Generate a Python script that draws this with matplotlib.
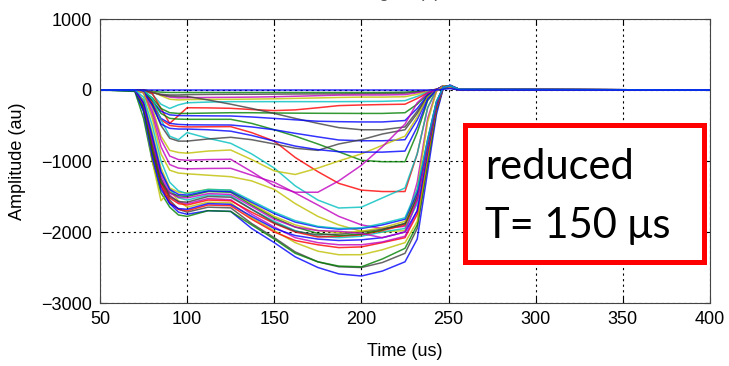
import matplotlib.pyplot as plt
from matplotlib.patches import Rectangle

# sample times (us) shared by every trace
time_us = [50, 70, 75, 80, 85, 90, 95, 100, 112, 125, 137, 150, 162, 175, 187,
           200, 212, 225, 232, 238, 243, 247, 251, 256, 400]

# shallow traces (amplitude, au)
tr01 = [0, 0, 0, 0, 0, 0, 0, 0, 0, 0, 0, 0, 0, 0, 0, 0, 0, 0, 0, 0, 0, 10, 20, 0, 0]
tr02 = [0, 0, 0, -20, -30, -35, -35, -35, -35, -35, -35, -35, -35, -35, -35, -35, -35, -30, -20, -10, 0, 20, 30, 0, 0]
tr03 = [0, 0, -10, -40, -60, -70, -70, -65, -62, -60, -60, -58, -56, -55, -55, -52, -50, -45, -30, -10, 10, 40, 30, 0, 0]
tr04 = [0, 0, 0, -30, -70, -100, -110, -108, -105, -103, -100, -95, -88, -80, -72, -70, -70, -65, -40, -15, 10, 40, 30, 0, 0]
tr05 = [0, 0, 0, -20, -80, -130, -140, -135, -132, -131, -128, -124, -118, -112, -105, -100, -100, -95, -60, -20, 10, 40, 30, 0, 0]
tr06 = [0, 0, -10, -60, -200, -260, -210, -180, -170, -164, -164, -164, -164, -164, -164, -162, -160, -150, -90, -30, 10, 50, 30, 0, 0]
tr07 = [0, 0, 0, -50, -260, -470, -360, -250, -252, -258, -275, -290, -280, -250, -220, -211, -205, -200, -120, -40, 10, 50, 30, 0, 0]
tr08 = [0, 0, -20, -110, -260, -320, -330, -330, -325, -320, -320, -324, -326, -328, -329, -330, -330, -320, -200, -60, 0, 50, 40, 0, 0]
tr09 = [0, 0, 0, -30, -70, -85, -90, -90, -140, -200, -260, -330, -400, -470, -530, -560, -560, -520, -300, -80, 0, 50, 40, 0, 0]
tr10 = [0, 0, -30, -150, -300, -350, -360, -362, -364, -366, -380, -400, -420, -440, -446, -450, -450, -430, -260, -70, 0, 50, 40, 0, 0]
tr11 = [0, 0, -20, -150, -330, -400, -410, -413, -413, -413, -470, -560, -650, -760, -870, -990, -1010, -1010, -600, -150, 0, 60, 40, 0, 0]
tr12 = [0, 0, -40, -200, -400, -470, -485, -490, -492, -493, -520, -560, -610, -660, -704, -715, -715, -700, -420, -110, 0, 60, 40, 0, 0]
tr13 = [0, 0, -30, -180, -420, -500, -515, -520, -518, -516, -600, -720, -950, -1150, -1315, -1410, -1430, -1430, -900, -250, 0, 60, 40, 0, 0]
tr14 = [0, 0, -10, -120, -420, -650, -700, -600, -680, -751, -900, -1100, -1350, -1550, -1662, -1650, -1520, -1380, -900, -250, 0, 60, 40, 0, 0]
tr15 = [0, 0, -30, -200, -500, -680, -720, -720, -690, -666, -700, -760, -820, -850, -760, -700, -620, -560, -330, -90, 0, 50, 40, 0, 0]
tr16 = [0, 0, -20, -250, -650, -850, -880, -890, -860, -845, -980, -1140, -1190, -1100, -1000, -900, -780, -650, -380, -100, 0, 50, 40, 0, 0]
tr17 = [0, 0, -30, -300, -700, -930, -980, -990, -980, -976, -1150, -1350, -1440, -1440, -1280, -1060, -800, -480, -180, -40, 0, 50, 40, 0, 0]
tr18 = [0, 0, -20, -220, -480, -540, -550, -550, -560, -580, -640, -720, -790, -840, -869, -875, -875, -860, -520, -130, 0, 60, 40, 0, 0]
tr19 = [0, 0, -40, -350, -800, -1050, -1100, -1110, -1105, -1103, -1200, -1300, -1450, -1620, -1780, -1900, -1950, -1920, -1300, -400, -20, 60, 40, 0, 0]
tr20 = [0, 0, -40, -400, -900, -1130, -1170, -1180, -1200, -1221, -1280, -1400, -1600, -1780, -1900, -1990, -2000, -1980, -1400, -450, -20, 60, 40, 0, 0]

# deep traces
tr21 = [0, -10, -300, -900, -1350, -1600, -1720, -1750, -1700, -1710, -1950, -2150, -2350, -2500, -2590, -2620, -2550, -2420, -2100, -1150, -350, 30, 70, 10, 0]
tr22 = [0, 0, -250, -850, -1300, -1550, -1680, -1720, -1650, -1660, -1880, -2080, -2280, -2420, -2490, -2500, -2430, -2300, -1950, -1050, -300, 30, 60, 10, 0]
tr23 = [0, -20, -400, -1000, -1450, -1650, -1760, -1780, -1700, -1710, -1900, -2100, -2300, -2420, -2480, -2490, -2380, -2230, -1900, -1000, -280, 40, 60, 10, 0]
tr24 = [0, 0, -250, -1000, -1560, -1420, -1560, -1650, -1580, -1590, -1800, -1980, -2150, -2270, -2320, -2320, -2250, -2150, -1850, -950, -250, 40, 60, 10, 0]
tr25 = [0, 0, -250, -850, -1350, -1580, -1680, -1700, -1620, -1630, -1820, -2000, -2120, -2180, -2220, -2210, -2150, -2080, -1750, -900, -250, 40, 60, 10, 0]
tr26 = [0, 0, -150, -700, -1250, -1480, -1580, -1600, -1530, -1545, -1750, -1930, -2080, -2150, -2180, -2180, -2140, -2060, -1700, -850, -230, 40, 60, 10, 0]
tr27 = [0, -10, -300, -950, -1400, -1600, -1670, -1680, -1600, -1610, -1780, -1950, -2050, -2100, -2120, -2110, -2080, -2000, -1700, -850, -220, 40, 60, 10, 0]
tr28 = [0, 0, -150, -650, -1150, -1400, -1520, -1550, -1480, -1490, -1680, -1850, -1980, -2060, -2080, -2060, -2000, -1950, -1600, -800, -200, 40, 60, 10, 0]
tr29 = [0, 0, -200, -800, -1300, -1520, -1600, -1620, -1550, -1560, -1720, -1880, -2000, -2070, -2060, -2040, -1980, -1900, -1550, -780, -200, 40, 60, 10, 0]
tr30 = [0, -10, -250, -850, -1300, -1450, -1490, -1500, -1430, -1440, -1620, -1800, -1930, -2020, -2050, -2030, -1970, -1880, -1500, -750, -180, 40, 60, 10, 0]
tr31 = [0, 0, -200, -750, -1250, -1500, -1570, -1580, -1500, -1510, -1680, -1870, -1990, -2040, -2030, -2000, -1960, -1880, -1500, -750, -180, 40, 60, 10, 0]
tr32 = [0, 0, -150, -600, -1100, -1380, -1440, -1450, -1400, -1410, -1600, -1780, -1900, -1980, -2010, -1990, -1940, -1850, -1450, -700, -170, 40, 60, 10, 0]
tr33 = [0, 0, -200, -700, -1200, -1450, -1510, -1520, -1460, -1470, -1640, -1820, -1930, -1980, -1990, -2020, -2080, -2000, -1550, -750, -180, 40, 60, 10, 0]
tr34 = [0, 0, -180, -650, -1150, -1400, -1470, -1480, -1420, -1430, -1580, -1740, -1860, -1930, -1960, -1950, -1900, -1820, -1450, -700, -170, 40, 60, 10, 0]
tr35 = [0, 0, -100, -500, -1000, -1300, -1420, -1460, -1400, -1410, -1560, -1720, -1840, -1920, -1950, -1940, -1880, -1800, -1400, -700, -160, 40, 60, 10, 0]

# drawn in this order, the flat blue baseline last so it sits on top
traces = [tr02, tr03, tr04, tr05, tr06, tr07, tr08, tr09, tr10,
          tr11, tr12, tr13, tr14, tr15, tr16, tr17, tr18, tr19, tr20,
          tr21, tr22, tr23, tr24, tr25, tr26, tr27, tr28, tr29, tr30,
          tr31, tr32, tr33, tr34, tr35, tr01]
trace_colors = ["g", "k", "m", "y", "c", "r", "g", "k", "b",
                "g", "b", "r", "c", "k", "y", "m", "b", "m", "y",
                "b", "k", "g", "y", "r", "m", "b", "c", "r", "g",
                "k", "y", "m", "b", "c", "b"]

# old matlab line colours
matlab = {"b": (0, 0, 1), "g": (0, 0.5, 0), "r": (1, 0, 0), "c": (0, 0.75, 0.75),
          "m": (0.75, 0, 0.75), "y": (0.75, 0.75, 0), "k": (0.25, 0.25, 0.25)}

x_ticks = [50, 100, 150, 200, 250, 300, 350, 400]
y_ticks = [-3000, -2000, -1000, 0, 1000]

plt.rcParams["font.family"] = ["Liberation Sans", "DejaVu Sans"]

fig = plt.figure(figsize=(7.29, 3.66), dpi=100)
ax = fig.add_axes([100 / 729, 1 - 303 / 366, 610 / 729, 284 / 366])

for tr, c in zip(traces, trace_colors):
    ax.plot(time_us, tr, color=matlab[c], lw=1.1, alpha=0.8)

ax.set_xlim(50, 400)
ax.set_ylim(-3000, 1000)
ax.set_xticks(x_ticks)
ax.set_yticks(y_ticks)
ax.tick_params(direction="in", top=True, right=True, length=4, labelsize=13, pad=6)
ax.grid(True, linestyle=(0, (2, 3)), color="k", lw=0.8)
ax.set_axisbelow(True)
for s in ax.spines.values():
    s.set_color("#444444")

fig.text(405 / 729, 1 - 352 / 366, "Time (us)", ha="center", va="center", fontsize=13)
fig.text(18 / 729, 1 - 161 / 366, "Amplitude (au)", ha="center", va="center",
         rotation=90, fontsize=13)
# title is cut off by the top edge, only its lowest pixels show
fig.text(402 / 729, 1 + 3 / 366, "Signal (b)", ha="center", va="baseline",
         fontsize=13, color="#555555")

# annotation box
box = Rectangle((465 / 729, 1 - 262 / 366), 239 / 729, 137 / 366,
                transform=fig.transFigure, facecolor="white", edgecolor="red", lw=3.6)
fig.add_artist(box)
fig.text(485 / 729, 1 - 179 / 366, "reduced", fontsize=30,
         family=["Lato", "DejaVu Sans"], va="baseline")
fig.text(485 / 729, 1 - 238 / 366, "T= 150 \u03bcs", fontsize=30,
         family=["Lato", "DejaVu Sans"], va="baseline")

fig.savefig("out.png", dpi=100)
